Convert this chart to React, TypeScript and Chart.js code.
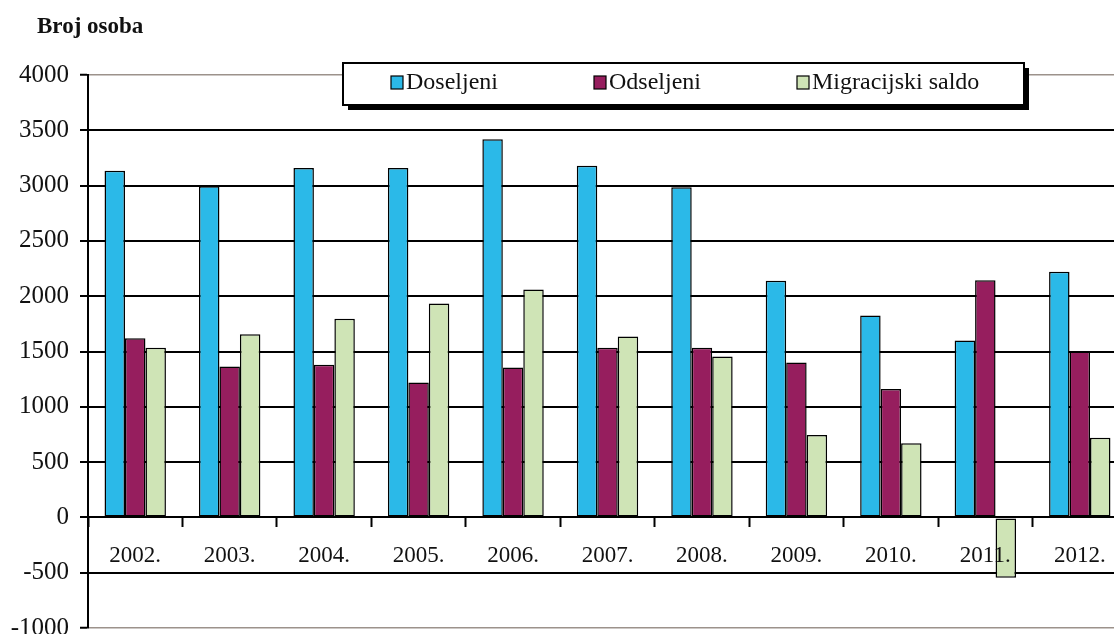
import React, { useEffect, useRef } from "react";
import { Chart, registerables } from "chart.js";

Chart.register(...registerables);

const categories = ["2002.", "2003.", "2004.", "2005.", "2006.", "2007.", "2008.", "2009.", "2010.", "2011.", "2012."];
const doseljeni = [3135, 2995, 3160, 3160, 3420, 3180, 2985, 2140, 1825, 1600, 2220];
const odseljeni = [1620, 1365, 1380, 1220, 1355, 1535, 1535, 1400, 1160, 2145, 1500];
const saldo = [1535, 1655, 1795, 1935, 2060, 1635, 1455, 745, 670, -545, 720];
const seriesLabels = ["Doseljeni", "Odseljeni", "Migracijski saldo"];
const seriesColors = ["#2BB9E8", "#961E5E", "#CFE4B6"];
const yMin = -1000;
const yMax = 4000;
const yStep = 500;
const yTitle = "Broj osoba";

const FONT = "'Liberation Serif', 'Times New Roman', serif";

const boxLegend = {
  id: "boxLegend",
  afterDraw(chart: any) {
    const ctx = chart.ctx as CanvasRenderingContext2D;
    ctx.save();
    // title
    ctx.fillStyle = "#111";
    ctx.font = `bold 23px ${FONT}`;
    ctx.textAlign = "left";
    ctx.textBaseline = "middle";
    ctx.fillText(yTitle, 37, 27);

    // legend box with shadow
    const x = 343, y = 63, w = 681, h = 42;
    ctx.fillStyle = "#000";
    ctx.fillRect(x + 5, y + 5, w, h);
    ctx.fillStyle = "#fff";
    ctx.fillRect(x, y, w, h);
    ctx.lineWidth = 2;
    ctx.strokeStyle = "#000";
    ctx.strokeRect(x, y, w, h);

    const itemX = [391, 594, 797];
    const cy = 83;
    ctx.font = `24px ${FONT}`;
    chart.data.datasets.forEach((ds: any, i: number) => {
      const sx = itemX[i];
      ctx.fillStyle = ds.backgroundColor;
      ctx.fillRect(sx, cy - 7, 12, 13);
      ctx.lineWidth = 1.2;
      ctx.strokeStyle = "#000";
      ctx.strokeRect(sx, cy - 7, 12, 13);
      ctx.fillStyle = "#111";
      ctx.textBaseline = "middle";
      ctx.fillText(ds.label, sx + 15, cy);
    });
    ctx.restore();
  },
};

export default function App() {
  const ref = useRef<HTMLCanvasElement | null>(null);

  useEffect(() => {
    if (!ref.current) return;
    const chart = new Chart(ref.current, {
      type: "bar",
      data: {
        labels: categories,
        datasets: [
          { label: seriesLabels[0], data: doseljeni, backgroundColor: seriesColors[0] },
          { label: seriesLabels[1], data: odseljeni, backgroundColor: seriesColors[1] },
          { label: seriesLabels[2], data: saldo, backgroundColor: seriesColors[2] },
        ].map((d) => ({
          ...d,
          borderColor: "#000",
          borderWidth: 1.5,
          borderSkipped: false,
          categoryPercentage: 0.65,
          barPercentage: 1,
        })),
      },
      plugins: [boxLegend],
      options: {
        responsive: false,
        animation: false,
        devicePixelRatio: 1,
        layout: { padding: { top: 75, bottom: 6, left: 0, right: 13 } },
        plugins: {
          legend: { display: false },
          title: { display: false },
          tooltip: { enabled: false },
        },
        scales: {
          x: {
            type: "category",
            position: { y: 0 } as any,
            offset: true,
            afterFit: (scale: any) => {
              scale.height = 0;
              scale.paddingLeft = 0;
              scale.paddingRight = 0;
            },
            grid: {
              drawOnChartArea: false,
              drawTicks: true,
              tickLength: 9,
              offset: true,
              tickColor: "#000",
              tickWidth: 2,
              z: 1,
            } as any,
            border: { display: true, color: "#000", width: 2, z: 1 } as any,
            ticks: {
              color: "#111",
              font: { family: FONT, size: 23 },
              padding: 16,
              maxRotation: 0,
              autoSkip: false,
              z: 2,
            } as any,
          },
          y: {
            min: yMin,
            max: yMax,
            afterFit: (scale: any) => {
              scale.width = 88;
              scale.paddingTop = 0;
              scale.paddingBottom = 0;
            },
            grid: {
              color: (c: any) =>
                c.tick && (c.tick.value === yMax || c.tick.value === yMin) ? "#9c928b" : "#000",
              lineWidth: (c: any) =>
                c.tick && (c.tick.value === yMax || c.tick.value === yMin) ? 1.5 : 2,
              tickColor: "#000",
              tickLength: 8,
              tickWidth: 2,
            } as any,
            border: { display: true, color: "#000", width: 2 },
            ticks: {
              stepSize: yStep,
              color: "#111",
              font: { family: FONT, size: 25 },
              padding: 11,
              callback: (v: any) => String(v),
            },
          },
        },
      },
    });
    return () => chart.destroy();
  }, []);

  return (
    <div
      style={{
        position: "fixed",
        left: 0,
        top: 0,
        width: 1114,
        height: 634,
        overflow: "hidden",
        background: "#fff",
      }}
    >
      <canvas
        ref={ref}
        width={1140}
        height={634}
        style={{ width: 1140, height: 634, display: "block" }}
      />
    </div>
  );
}
